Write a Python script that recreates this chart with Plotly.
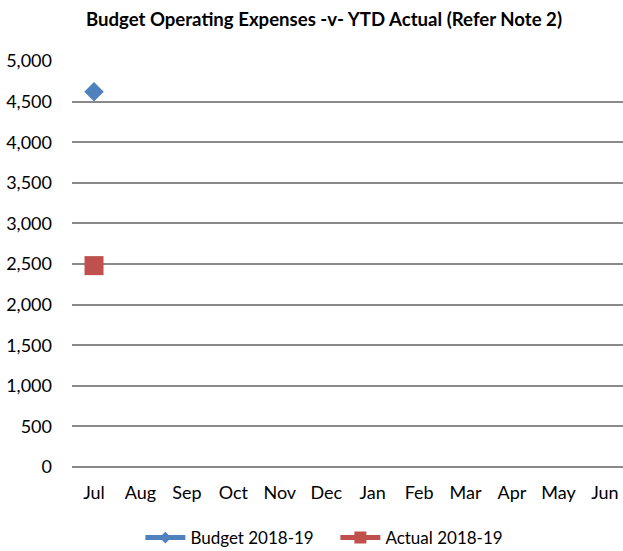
import plotly.graph_objects as go

months = ["Jul", "Aug", "Sep", "Oct", "Nov", "Dec", "Jan", "Feb", "Mar", "Apr", "May", "Jun"]
budget = [4620, None, None, None, None, None, None, None, None, None, None, None]
actual = [2480, None, None, None, None, None, None, None, None, None, None, None]
y_ticks = [0, 500, 1000, 1500, 2000, 2500, 3000, 3500, 4000, 4500, 5000]

BLUE = "#4F81BD"
RED = "#C0504D"
GRID = "#8A8A8A"

fig = go.Figure()
fig.add_trace(go.Scatter(x=months, y=budget, name="Budget 2018-19", mode="lines+markers",
                         line=dict(color=BLUE, width=4), showlegend=False,
                         marker=dict(symbol="diamond", size=15, color=BLUE)))
fig.add_trace(go.Scatter(x=months, y=actual, name="Actual 2018-19", mode="lines+markers",
                         line=dict(color=RED, width=4), showlegend=False,
                         marker=dict(symbol="square", size=19, color=RED)))
# legend entries (smaller markers as in the reference legend)
fig.add_trace(go.Scatter(x=[None], y=[None], name="Budget 2018-19", mode="lines+markers",
                         line=dict(color=BLUE, width=5),
                         marker=dict(symbol="diamond", size=9, color=BLUE)))
fig.add_trace(go.Scatter(x=[None], y=[None], name="Actual 2018-19", mode="lines+markers",
                         line=dict(color=RED, width=5),
                         marker=dict(symbol="square", size=12, color=RED)))

fig.update_layout(
    width=623, height=551,
    margin=dict(l=72, r=0, t=61, b=84, autoexpand=False),
    paper_bgcolor="white", plot_bgcolor="white",
    font=dict(family="Lato, Open Sans, sans-serif", size=18, color="#000000"),
    title=dict(text="<b>Budget Operating Expenses -v- YTD Actual (Refer Note 2)</b>",
               x=0.52, xanchor="center", y=0.965, yanchor="middle",
               font=dict(size=18.6)),
    showlegend=True,
    legend=dict(orientation="h", x=0.478, xanchor="center", y=-0.175, yanchor="middle",
                font=dict(size=17), itemwidth=40, traceorder="normal", entrywidth=140),
    xaxis=dict(type="category", categoryorder="array", categoryarray=months,
               range=[-0.474, 11.39], showgrid=False, showline=False, zeroline=False,
               ticks="", ticklabelstandoff=13, tickfont=dict(size=18)),
    yaxis=dict(range=[0, 5000], tickvals=y_ticks, tickformat=",d",
               showgrid=True, gridcolor=GRID, gridwidth=1.5,
               zeroline=True, zerolinecolor=GRID, zerolinewidth=1.5,
               ticks="", ticklabelstandoff=19, tickfont=dict(size=18)),
)

fig.write_html("out.html", config={"displayModeBar": False},
               post_script="document.body.style.margin='0';document.body.style.overflow='hidden';")
